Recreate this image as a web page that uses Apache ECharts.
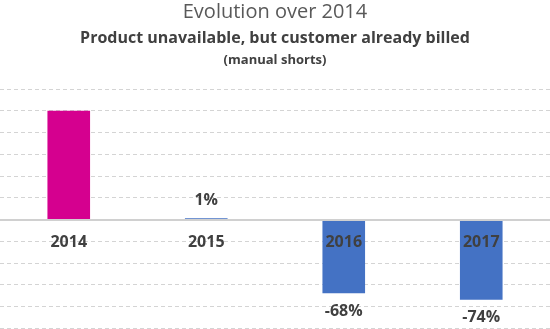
<!DOCTYPE html>
<html>
<head>
<meta charset="utf-8">
<script src="https://cdn.jsdelivr.net/npm/echarts@6/dist/echarts.min.js"></script>
<style>
  html, body { margin: 0; padding: 0; background: #fff; }
  #chart { width: 550px; height: 329px; }
</style>
</head>
<body>
<div id="chart"></div>
<script>
const years = ['2014', '2015', '2016', '2017']
const evolution = [100, 1, -68, -74]
const showLabel = [false, true, true, true]
const barColors = ['#d5008f', '#4472c4', '#4472c4', '#4472c4']
const yMin = -100
const yMax = 120

const chart = echarts.init(document.getElementById('chart'))

const gridTop = 89
const gridBottom = 1
const gridHeight = 329 - gridTop - gridBottom
// move the category axis up to the zero line (labels included)
const zeroOffset = -gridHeight * (0 - yMin) / (yMax - yMin)

const seriesData = evolution.map((v, i) => {
    return {
        value: v,
        itemStyle: { color: barColors[i] },
        label: {
            show: showLabel[i],
            position: v < 0 ? 'bottom' : 'top',
            distance: 10
        }
    }
})

const option = {
    animation: false,
    title: [
        {
            text: 'Evolution over 2014',
            left: 'center',
            top: -3,
            textStyle: { fontFamily: 'Open Sans', fontWeight: 'normal', fontSize: 20, color: '#595959' }
        },
        {
            text: 'Product unavailable, but customer already billed',
            left: 'center',
            top: 25,
            textStyle: { fontFamily: 'Open Sans', fontWeight: 'bold', fontSize: 16, color: '#404040' }
        },
        {
            text: '(manual shorts)',
            left: 'center',
            top: 49,
            textStyle: { fontFamily: 'Open Sans', fontWeight: 'bold', fontSize: 13, color: '#404040' }
        }
    ],
    grid: { left: 0, right: 0, top: gridTop, bottom: gridBottom, outerBoundsMode: 'none', containLabel: false },
    xAxis: {
        type: 'category',
        data: years,
        z: 5,
        offset: zeroOffset,
        axisLine: { onZero: false, lineStyle: { color: '#d0d0d0', width: 2 } },
        axisTick: { show: false },
        axisLabel: {
            margin: 15,
            fontFamily: 'Open Sans',
            fontWeight: 'bold',
            fontSize: 16,
            color: '#404040'
        }
    },
    yAxis: {
        type: 'value',
        min: yMin,
        max: yMax,
        interval: 20,
        axisLabel: { show: false },
        axisLine: { show: false },
        axisTick: { show: false },
        splitLine: { lineStyle: { color: '#d4d4d4', type: [4, 3], width: 1 } }
    },
    series: [
        {
            type: 'bar',
            data: seriesData,
            barWidth: '31%',
            label: {
                formatter: '{c}%',
                fontFamily: 'Open Sans',
                fontWeight: 'bold',
                fontSize: 16,
                color: '#404040'
            }
        }
    ]
}

chart.setOption(option)
</script>
</body>
</html>
